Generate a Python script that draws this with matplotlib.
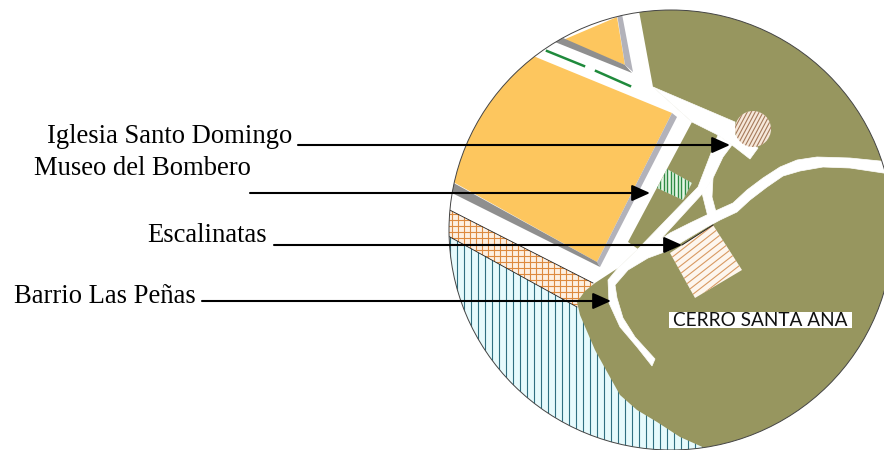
import matplotlib
matplotlib.use('Agg')
import matplotlib.pyplot as plt
from matplotlib.patches import Ellipse, Polygon, Circle, PathPatch, Rectangle
from matplotlib.path import Path
from matplotlib.transforms import Affine2D
import numpy as np

# map shapes (x, y from top left)
map_center = (671, 230)
map_rx = 222
map_ry = 220

water = [(430, 226), (577, 307), (640, 350), (720, 470), (430, 470)]
barrio_strip = [(430, 200), (593, 283), (600, 300), (577, 307), (430, 226)]
block_big = [(538, 58), (672, 113), (597, 262), (455, 183), (400, 150), (480, 30)]
block_big_side = [(672, 113), (677, 117), (600, 267), (597, 262)]
block_big_bottom = [(430, 170), (597, 262), (600, 267), (430, 182)]
block_small = [(563, 40), (617, 17), (625, 65)]
block_small_bottom = [(555, 42), (563, 38), (625, 65), (632, 73)]
block_small_side = [(617, 14), (622, 14), (633, 72), (625, 65)]
dash_a = [(547, 51), (584, 66)]
dash_b = [(596, 71), (630, 86)]

hill = [(637, 0), (653, 87), (692, 122), (628, 242), (638, 249), (618, 268), (595, 283), (585, 291), (577, 302),
        (580, 315), (595, 350), (606, 370), (620, 395), (637, 410), (657, 422), (680, 437), (707, 449),
        (707, 470), (900, 470), (900, 0)]
road_top = [(653, 87), (735, 122), (735, 135), (745, 140), (758, 148), (750, 159), (732, 145), (718, 135), (692, 122)]
road_strip = [(718, 135), (732, 145), (723, 157), (713, 178), (703, 193), (660, 240), (638, 249), (698, 187)]
road_branch = [(713, 178), (702, 193), (708, 217), (716, 212), (712, 197)]
road_long = [(890, 162), (850, 158), (817, 157), (797, 160), (780, 167), (763, 178), (747, 190), (733, 203),
             (713, 212), (690, 223), (670, 233), (660, 240), (638, 249), (618, 268), (608, 280), (609, 303),
             (620, 327), (637, 347), (652, 366), (655, 359), (635, 337), (623, 318), (617, 298), (615, 285),
             (628, 270), (648, 258), (670, 250), (682, 242), (707, 227), (720, 220), (737, 212), (750, 200),
             (767, 187), (783, 176), (800, 171), (823, 167), (850, 168), (890, 174)]

museo_plot = [(667, 169), (692, 183), (683, 200), (657, 188)]
plaza_plot = [(670, 253), (713, 225), (742, 270), (695, 298)]
church_center = (753, 129)
church_radius = 18

# labels and leader arrows
labels = ['Iglesia Santo Domingo', 'Museo del Bombero', 'Escalinatas', 'Barrio Las Peñas']
label_x = [47, 34, 147, 14]
label_y = [143, 175, 242, 303]
arrow_start = [298, 250, 274, 202]
arrow_tip = [730, 650, 682, 611]
arrow_y = [145, 193, 245, 301]
hill_name = 'CERRO SANTA ANA'
hill_name_box = (669, 312, 183, 16)

OLIVE = '#97965f'
YELLOW = '#fdc65e'

fig = plt.figure(figsize=(8.84, 4.5), dpi=100)
ax = fig.add_axes([0, 0, 1, 1])
ax.set_xlim(0, 884)
ax.set_ylim(450, 0)
ax.axis('off')


def fill(pts, color, z=2, edge='none'):
    p = Polygon(pts, closed=True, facecolor=color, edgecolor=edge, lw=0.5, zorder=z)
    ax.add_patch(p)
    return p


def hatch(shape, center, color, angle, step, lw, z=2.5):
    # hatch lines through the shape's middle, clipped to it
    a = np.radians(angle)
    nx, ny = -np.sin(a), np.cos(a)
    for off in np.arange(-300, 300, step):
        x0, y0 = center[0] + nx * off, center[1] + ny * off
        ln, = ax.plot([x0 - 400 * np.cos(a), x0 + 400 * np.cos(a)],
                      [y0 - 400 * np.sin(a), y0 + 400 * np.sin(a)],
                      color=color, lw=lw, zorder=z, solid_capstyle='butt', scalex=False, scaley=False)
        ln.set_clip_path(shape)


w = fill(water, '#e6fafc')
hatch(w, (500, 350), '#2f6f80', 90, 7, 0.8)
s = fill(barrio_strip, '#fdf0e2')
hatch(s, (500, 250), '#dd8a3f', 90, 6, 0.8)
hatch(s, (500, 250), '#dd8a3f', 0, 6, 0.8)
for pair in ([(430, 200), (593, 283)], [(430, 226), (577, 307)]):
    ax.plot(*zip(*pair), color='#222222', lw=0.6, zorder=2.6, scalex=False, scaley=False)

fill(block_big, YELLOW, z=3)
fill(block_big_side, '#b2b2ba', z=3)
fill(block_big_bottom, '#8f8f8f', z=3)
fill(block_small, YELLOW, z=3)
fill(block_small_bottom, '#8f8f8f', z=3)
fill(block_small_side, '#b2b2ba', z=3)
for d in (dash_a, dash_b):
    ax.plot(*zip(*d), color='#1f8a3c', lw=1.8, zorder=3)

fill(hill, OLIVE, z=3.1)
for r in (road_top, road_strip, road_branch, road_long):
    fill(r, 'white', z=3.2, edge='white')

m = fill(museo_plot, '#e6f6e6', z=3.4)
hatch(m, (675, 185), '#2e8b45', 90, 3.5, 1.0, z=3.5)
q = fill(plaza_plot, '#fdf6ee', z=3.4)
hatch(q, (705, 262), '#d99a62', -38, 6, 0.8, z=3.5)
ax.plot([682, 713], [245, 225], color='#222222', lw=0.7, zorder=3.6)

church = Circle(church_center, church_radius, facecolor='#f6e8da', edgecolor='none', zorder=3.4)
ax.add_patch(church)
hatch(church, church_center, '#a5795a', -62, 3.5, 0.8, z=3.5)

# white cover outside the round map, then its rim
outside = Path([(-10, -10), (-10, 460), (894, 460), (894, -10), (-10, -10)])
round_hole = Path.unit_circle().transformed(Affine2D().scale(map_rx, map_ry).translate(*map_center))
ax.add_patch(PathPatch(Path.make_compound_path(outside, round_hole), facecolor='white', edgecolor='none', zorder=3.9))
ax.add_patch(Ellipse(map_center, 2 * map_rx, 2 * map_ry, facecolor='none', edgecolor='#444444', lw=0.7, zorder=4))

ax.add_patch(Rectangle(hill_name_box[:2], hill_name_box[2], hill_name_box[3], facecolor='white', edgecolor='none', zorder=5))
ax.text(hill_name_box[0] + hill_name_box[2] / 2, hill_name_box[1] + hill_name_box[3] / 2 + 0.5, hill_name,
        family='Lato', fontsize=13.7, color='#111111', ha='center', va='center', zorder=5.1)

for name, x, y in zip(labels, label_x, label_y):
    ax.text(x, y, name, family='Liberation Serif', fontsize=19.2, color='black', ha='left', va='baseline', zorder=6)

for x0, x1, y in zip(arrow_start, arrow_tip, arrow_y):
    ax.annotate('', xy=(x1, y), xytext=(x0, y), zorder=6,
                arrowprops=dict(arrowstyle='-|>,head_length=1.0,head_width=0.45', color='black', lw=1.5,
                                shrinkA=0, shrinkB=0, mutation_scale=11))

fig.savefig('out.png', dpi=100)
